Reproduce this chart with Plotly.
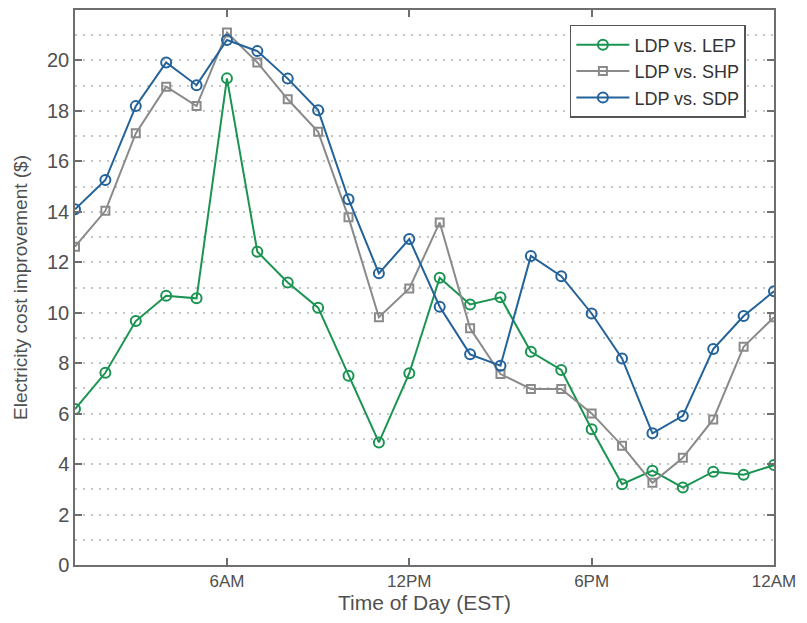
import plotly.graph_objects as go

hours = list(range(1, 25))
lep = [6.18, 7.62, 9.67, 10.67, 10.57, 19.29, 12.42, 11.2, 10.2, 7.5, 4.86, 7.6,
       11.39, 10.33, 10.61, 8.45, 7.73, 5.38, 3.2, 3.74, 3.07, 3.70, 3.58, 3.96]
shp = [12.62, 14.04, 17.11, 18.96, 18.19, 21.11, 19.92, 18.46, 17.17, 13.78, 9.82, 10.96,
       13.58, 9.38, 7.57, 6.98, 6.98, 6.01, 4.73, 3.26, 4.25, 5.77, 8.65, 9.82]
sdp = [14.1, 15.26, 18.19, 19.92, 19.02, 20.81, 20.37, 19.28, 18.03, 14.5, 11.56, 12.92,
       10.24, 8.35, 7.9, 12.25, 11.45, 9.97, 8.19, 5.22, 5.91, 8.56, 9.87, 10.85]
x_tick_vals = [6, 12, 18, 24]
x_tick_text = ["6AM", "12PM", "6PM", "12AM"]
y_tick_vals = list(range(0, 21, 2))

GREEN = "#1b9452"
GRAY = "#8a8a8a"
BLUE = "#23629a"
TXT = "#505050"

fig = go.Figure()
fig.add_trace(go.Scatter(x=hours, y=lep, name="LDP vs. LEP", mode="lines+markers",
                         line=dict(color=GREEN, width=2),
                         marker=dict(symbol="circle-open", size=10, color=GREEN, line=dict(width=2))))
fig.add_trace(go.Scatter(x=hours, y=shp, name="LDP vs. SHP", mode="lines+markers",
                         line=dict(color=GRAY, width=2),
                         marker=dict(symbol="square-open", size=8, color=GRAY, line=dict(width=2))))
fig.add_trace(go.Scatter(x=hours, y=sdp, name="LDP vs. SDP", mode="lines+markers",
                         line=dict(color=BLUE, width=2),
                         marker=dict(symbol="circle-open", size=10, color=BLUE, line=dict(width=2))))

axis_common = dict(showline=True, linecolor="#6e6e6e", linewidth=1.5, mirror="ticks",
                   ticks="inside", ticklen=7, tickcolor="#6e6e6e", tickwidth=1.5,
                   zeroline=False, automargin=False)

fig.update_layout(
    width=799, height=607,
    margin=dict(l=67, r=33, t=2, b=50),
    paper_bgcolor="white", plot_bgcolor="white",
    font=dict(family="Liberation Sans, Arial, sans-serif", color=TXT),
    xaxis=dict(range=[1, 24], tickvals=x_tick_vals, ticktext=x_tick_text, showgrid=False,
               ticklabelstandoff=0, tickfont=dict(size=17, color=TXT), ticklabeloverflow="allow",
               title=dict(text="Time of Day (EST)", font=dict(size=21, color=TXT), standoff=0),
               **axis_common),
    yaxis=dict(range=[0, 22], tickvals=y_tick_vals, showgrid=True, gridcolor="#c4c4c4",
               griddash="2px,6px", gridwidth=1.5, tickfont=dict(size=20, color=TXT),
               minor=dict(dtick=1, showgrid=True, gridcolor="#c4c4c4", griddash="2px,6px", gridwidth=1.5),
               title=dict(text="Electricity cost improvement ($)", font=dict(size=19, color=TXT), standoff=14),
               **axis_common),
    legend=dict(x=0.708, y=0.973, xanchor="left", yanchor="top",
                bgcolor="white", bordercolor="#555", borderwidth=1.5,
                font=dict(size=18, color="#333"), tracegroupgap=0, itemwidth=53),
    showlegend=True,
)

fig.write_html("out.html")
